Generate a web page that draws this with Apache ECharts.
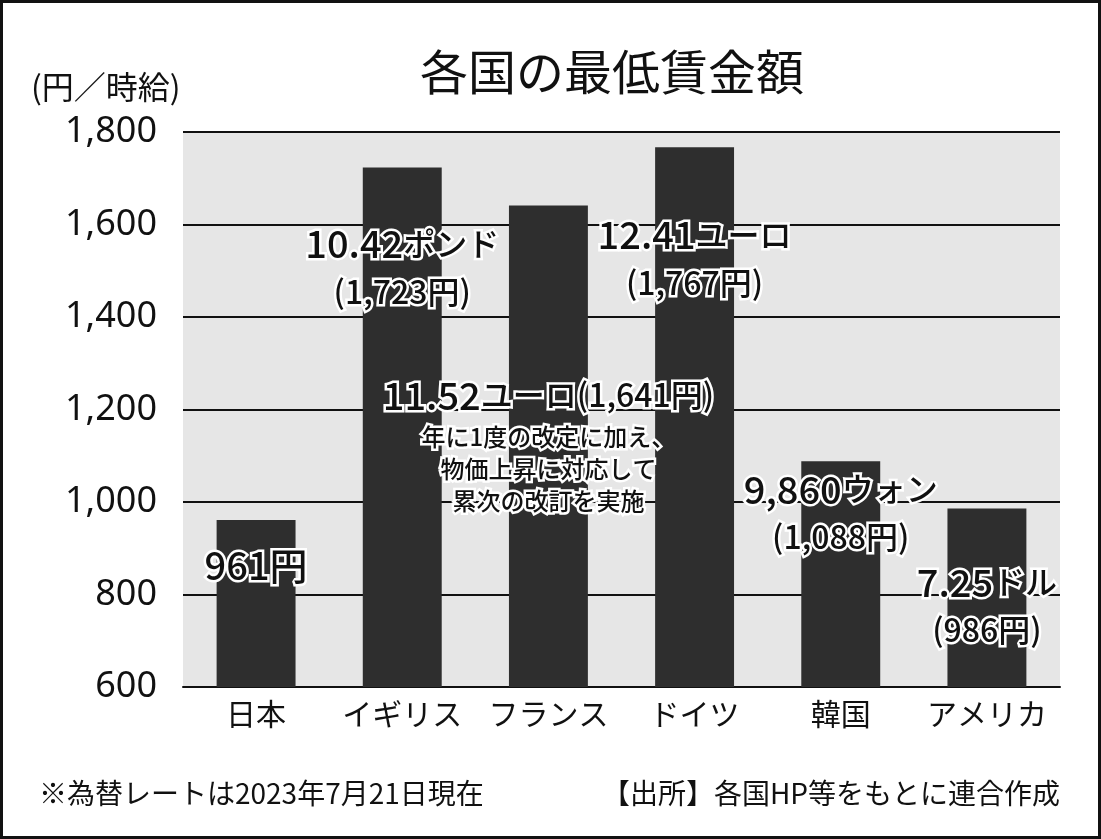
<!DOCTYPE html>
<html><head><meta charset="utf-8">
<script src="https://cdn.jsdelivr.net/npm/echarts@6/dist/echarts.min.js"></script>
<style>
html,body{margin:0;padding:0;background:#fff;}
#c{width:1101px;height:839px;box-sizing:border-box;border:3px solid #111;}
</style></head><body><div id="c"></div>
<script>
const categories = ['日本','イギリス','フランス','ドイツ','韓国','アメリカ'];
const values = [961, 1723, 1641, 1767, 1088, 986];
const yMin = 600, yMax = 1800, yStep = 200;
const titleText = '各国の最低賃金額';
const unitText = '(円／時給)';
const noteLeft = '※為替レートは2023年7月21日現在';
const noteRight = '【出所】各国HP等をもとに連合作成';
// annotations: category index, anchor value (data units), text lines
const annJapan = {idx: 0, at: 863, lines: ['{a|961円}']};
const annUK = {idx: 1, at: 1507, lines: ['{a|10.42}{k|ポンド}', '{b|(1,723円)}']};
const annFR = {idx: 2, at: 1231, lines: ['{a|11.52}{k|ユーロ}{b|(1,641円)}']};
const annFRnote = {idx: 2, at: 1071, lines: ['{s|年に1度の改定に加え、}', '{s|物価上昇に対応して}', '{s|累次の改訂を実施}']};
const annDE = {idx: 3, at: 1526, lines: ['{a|12.41}{k|ユーロ}', '{b|(1,767円)}']};
const annKR = {idx: 4, at: 976, lines: ['{a|9,860}{k|ウォン}', '{b|(1,088円)}']};
const annUS = {idx: 5, at: 775, lines: ['{a|7.25}{k|ドル}', '{b|(986円)}']};
const annotations = [annJapan, annUK, annFR, annFRnote, annDE, annKR, annUS];

const FONT = '"Noto Sans CJK JP","Noto Sans",sans-serif';
const stroke = {textBorderColor:'#fff', textBorderWidth:5, color:'#111', fontFamily:FONT};
const rich = {
  a: Object.assign({fontSize:38, fontWeight:500, lineHeight:48}, stroke),
  k: Object.assign({fontSize:32, fontWeight:500, lineHeight:48}, stroke),
  b: Object.assign({fontSize:32, fontWeight:500, lineHeight:48}, stroke),
  s: Object.assign({fontSize:24, fontWeight:500, lineHeight:32}, stroke)
};

const chart = echarts.init(document.getElementById('c'), null, {renderer:'canvas'});
chart.setOption({
  backgroundColor:'#fff',
  animation:false,
  textStyle:{fontFamily:FONT},
  title:{text:titleText, left:412, top:40, textStyle:{fontSize:48, fontWeight:'normal', color:'#111', fontFamily:FONT}},
  graphic:[
    {type:'text', left:28, top:68, style:{text:unitText, font:'32px "Noto Sans CJK JP"', fill:'#111'}},
    {type:'text', left:36, top:776, style:{text:noteLeft, font:'28px "Noto Sans CJK JP"', fill:'#111'}},
    {type:'text', right:38, top:776, style:{text:noteRight, font:'28px "Noto Sans CJK JP"', fill:'#111'}}
  ],
  grid:{left:180, right:38, top:129, bottom:149, show:true, backgroundColor:'#e6e6e6', borderWidth:0},
  xAxis:{type:'category', data:categories,
    axisLine:{show:true, lineStyle:{color:'#111', width:2}},
    axisTick:{show:false},
    axisLabel:{interval:0, fontSize:30, color:'#111', margin:12, fontFamily:FONT}},
  yAxis:{type:'value', min:yMin, max:yMax, interval:yStep,
    axisLine:{show:false}, axisTick:{show:false},
    splitLine:{lineStyle:{color:'#111', width:2}},
    axisLabel:{fontSize:36, color:'#111', margin:26, fontFamily:'"Noto Sans",sans-serif',
      formatter:v => v.toLocaleString('en-US')}},
  series:[{
    type:'bar', data:values, barWidth:'54%',
    itemStyle:{color:'#2e2e2e'},
    markPoint:{
      symbol:'circle', symbolSize:0,
      itemStyle:{color:'rgba(0,0,0,0)'},
      data: annotations.map(a => ({coord:[a.idx, a.at], value:0,
        label:{show:true, position:'inside', align:'center', verticalAlign:'middle',
          formatter:a.lines.join('\n'), rich:rich}}))
    }
  }]
});
</script></body></html>
